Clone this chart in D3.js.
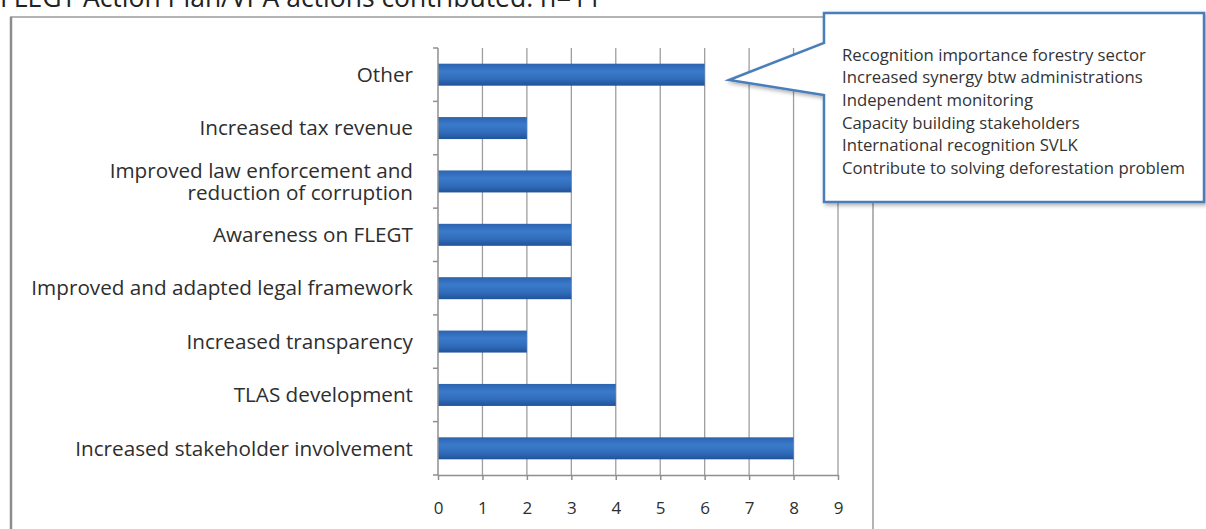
<!DOCTYPE html>
<html>
<head>
<meta charset="utf-8">
<script src="https://cdn.jsdelivr.net/npm/d3@7"></script>
<style>
  body { margin: 0; background: #fff; overflow: hidden; }
  svg { display: block; font-family: "Open Sans", "Noto Sans", sans-serif; }
</style>
</head>
<body>
<svg id="chart" width="1206" height="529"></svg>
<script>
// categories top to bottom, and their counts
const categories = [
    "Other",
    "Increased tax revenue",
    "Improved law enforcement and\nreduction of corruption",
    "Awareness on FLEGT",
    "Improved and adapted legal framework",
    "Increased transparency",
    "TLAS development",
    "Increased stakeholder involvement"
];
const counts = [6, 2, 3, 3, 3, 2, 4, 8];
const xTicks = [0, 1, 2, 3, 4, 5, 6, 7, 8, 9];
const calloutLines = [
    "Recognition importance forestry sector",
    "Increased synergy btw administrations",
    "Independent monitoring",
    "Capacity building stakeholders",
    "International recognition SVLK",
    "Contribute to solving deforestation problem"
];
const title = "FLEGT Action Plan/VPA actions contributed: n=11";

const svg = d3.select("#chart");

// fit a text element's font size so it is a given width
function fitWidth(sel, target) {
    const w = sel.node().getComputedTextLength();
    const fs = parseFloat(sel.attr("font-size"));
    return fs * target / w;
}

// defs: bar gradient and shadow
const defs = svg.append("defs");
const grad = defs.append("linearGradient")
    .attr("id", "barGrad")
    .attr("x1", 0).attr("y1", 0).attr("x2", 0).attr("y2", 1);
grad.append("stop").attr("offset", "0%").attr("stop-color", "#2b64b0");
grad.append("stop").attr("offset", "35%").attr("stop-color", "#3b7acb");
grad.append("stop").attr("offset", "70%").attr("stop-color", "#306cba");
grad.append("stop").attr("offset", "100%").attr("stop-color", "#21529a");

const shadow = defs.append("filter").attr("id", "shadow")
    .attr("x", "-10%").attr("y", "-10%").attr("width", "130%").attr("height", "130%");
shadow.append("feDropShadow")
    .attr("dx", 2).attr("dy", 2).attr("stdDeviation", 2)
    .attr("flood-color", "#000").attr("flood-opacity", 0.35);

// title, clipped by the top of the page
const titleText = svg.append("text")
    .attr("x", 0)
    .attr("y", 7)
    .attr("font-size", 20)
    .attr("fill", "#222")
    .text(title);
titleText.attr("font-size", fitWidth(titleText, 602));

// chart frame
svg.append("rect")
    .attr("x", 11).attr("y", 17)
    .attr("width", 862).attr("height", 530)
    .attr("fill", "#fff")
    .attr("stroke", "#b4b4b4")
    .attr("stroke-width", 2);
svg.append("line")
    .attr("x1", 11).attr("x2", 11).attr("y1", 17).attr("y2", 529)
    .attr("stroke", "#8c8c8c").attr("stroke-width", 2.5);

// plot area
const plotLeft = 438, plotRight = 838, plotTop = 48, plotBottom = 475;

const x = d3.scaleLinear().domain([0, 9]).range([plotLeft, plotRight]);
const y = d3.scaleBand().domain(categories).range([plotTop, plotBottom]).paddingInner(0).paddingOuter(0);
const barH = 22;

// vertical grid lines
svg.append("g")
    .selectAll("line")
    .data(xTicks.slice(1))
    .join("line")
    .attr("x1", d => x(d)).attr("x2", d => x(d))
    .attr("y1", plotTop).attr("y2", plotBottom)
    .attr("stroke", "#9e9e9e")
    .attr("stroke-width", 1.3);

// bars
svg.append("g")
    .selectAll("rect")
    .data(categories)
    .join("rect")
    .attr("x", x(0))
    .attr("y", d => y(d) + y.bandwidth() / 2 - barH / 2)
    .attr("width", (d, i) => x(counts[i]) - x(0))
    .attr("height", barH)
    .attr("fill", "url(#barGrad)");

// x axis
const xAxis = d3.axisBottom(x)
    .tickValues(xTicks)
    .tickSize(5)
    .tickPadding(22)
    .tickSizeOuter(0);
const xg = svg.append("g")
    .attr("transform", `translate(0, ${plotBottom})`)
    .call(xAxis);
xg.select(".domain").attr("stroke", "#8f8f8f").attr("stroke-width", 1.5);
xg.selectAll(".tick line").attr("stroke", "#8f8f8f").attr("stroke-width", 1.5);
xg.selectAll(".tick text")
    .attr("font-size", 17)
    .attr("font-family", "Open Sans, sans-serif")
    .attr("fill", "#2e2e2e");

// y axis line with ticks at category boundaries
const boundaries = categories.map(d => y(d)).concat([plotBottom]);
const yg = svg.append("g");
yg.append("line")
    .attr("x1", plotLeft).attr("x2", plotLeft)
    .attr("y1", plotTop).attr("y2", plotBottom)
    .attr("stroke", "#8f8f8f").attr("stroke-width", 1.5);
yg.selectAll("line.tick")
    .data(boundaries)
    .join("line")
    .attr("class", "tick")
    .attr("x1", plotLeft - 5).attr("x2", plotLeft)
    .attr("y1", d => d).attr("y2", d => d)
    .attr("stroke", "#8f8f8f").attr("stroke-width", 1.5);

// category labels
const labelSize = 16;
const labels = svg.append("g")
    .selectAll("text")
    .data(categories)
    .join("text")
    .attr("text-anchor", "end")
    .attr("font-size", labelSize)
    .attr("fill", "#2e2e2e");
labels.each(function (d) {
    const parts = d.split("\n");
    const t = d3.select(this);
    const cy = y(d) + y.bandwidth() / 2;
    parts.forEach((p, i) => {
        t.append("tspan")
            .attr("x", 413)
            .attr("y", cy + (i - (parts.length - 1) / 2) * 22)
            .attr("dy", "0.35em")
            .text(p);
    });
});
// scale label font to the reference width of the longest label
const longest = labels.filter(d => d === "Increased stakeholder involvement");
const lfs = fitWidth(longest, 338);
labels.attr("font-size", lfs);

// callout
const callout = svg.append("g");
const path = d3.path();
path.moveTo(824, 13);
path.lineTo(1204, 13);
path.lineTo(1204, 202);
path.lineTo(824, 202);
path.lineTo(824, 95);
path.lineTo(729, 80);
path.lineTo(824, 43);
path.closePath();
callout.append("path")
    .attr("d", path.toString())
    .attr("fill", "#fff")
    .attr("stroke", "#4a7ebb")
    .attr("stroke-width", 2.5)
    .attr("stroke-linejoin", "miter")
    .attr("filter", "url(#shadow)");

const cText = callout.selectAll("text")
    .data(calloutLines)
    .join("text")
    .attr("x", 842)
    .attr("y", (d, i) => 55 + i * 22.6)
    .attr("dy", "0.35em")
    .attr("font-size", 13)
    .attr("fill", "#333")
    .text(d => d);
const cfs = fitWidth(cText.filter((d, i) => i === calloutLines.length - 1), 343);
cText.attr("font-size", cfs);
</script>
</body>
</html>
